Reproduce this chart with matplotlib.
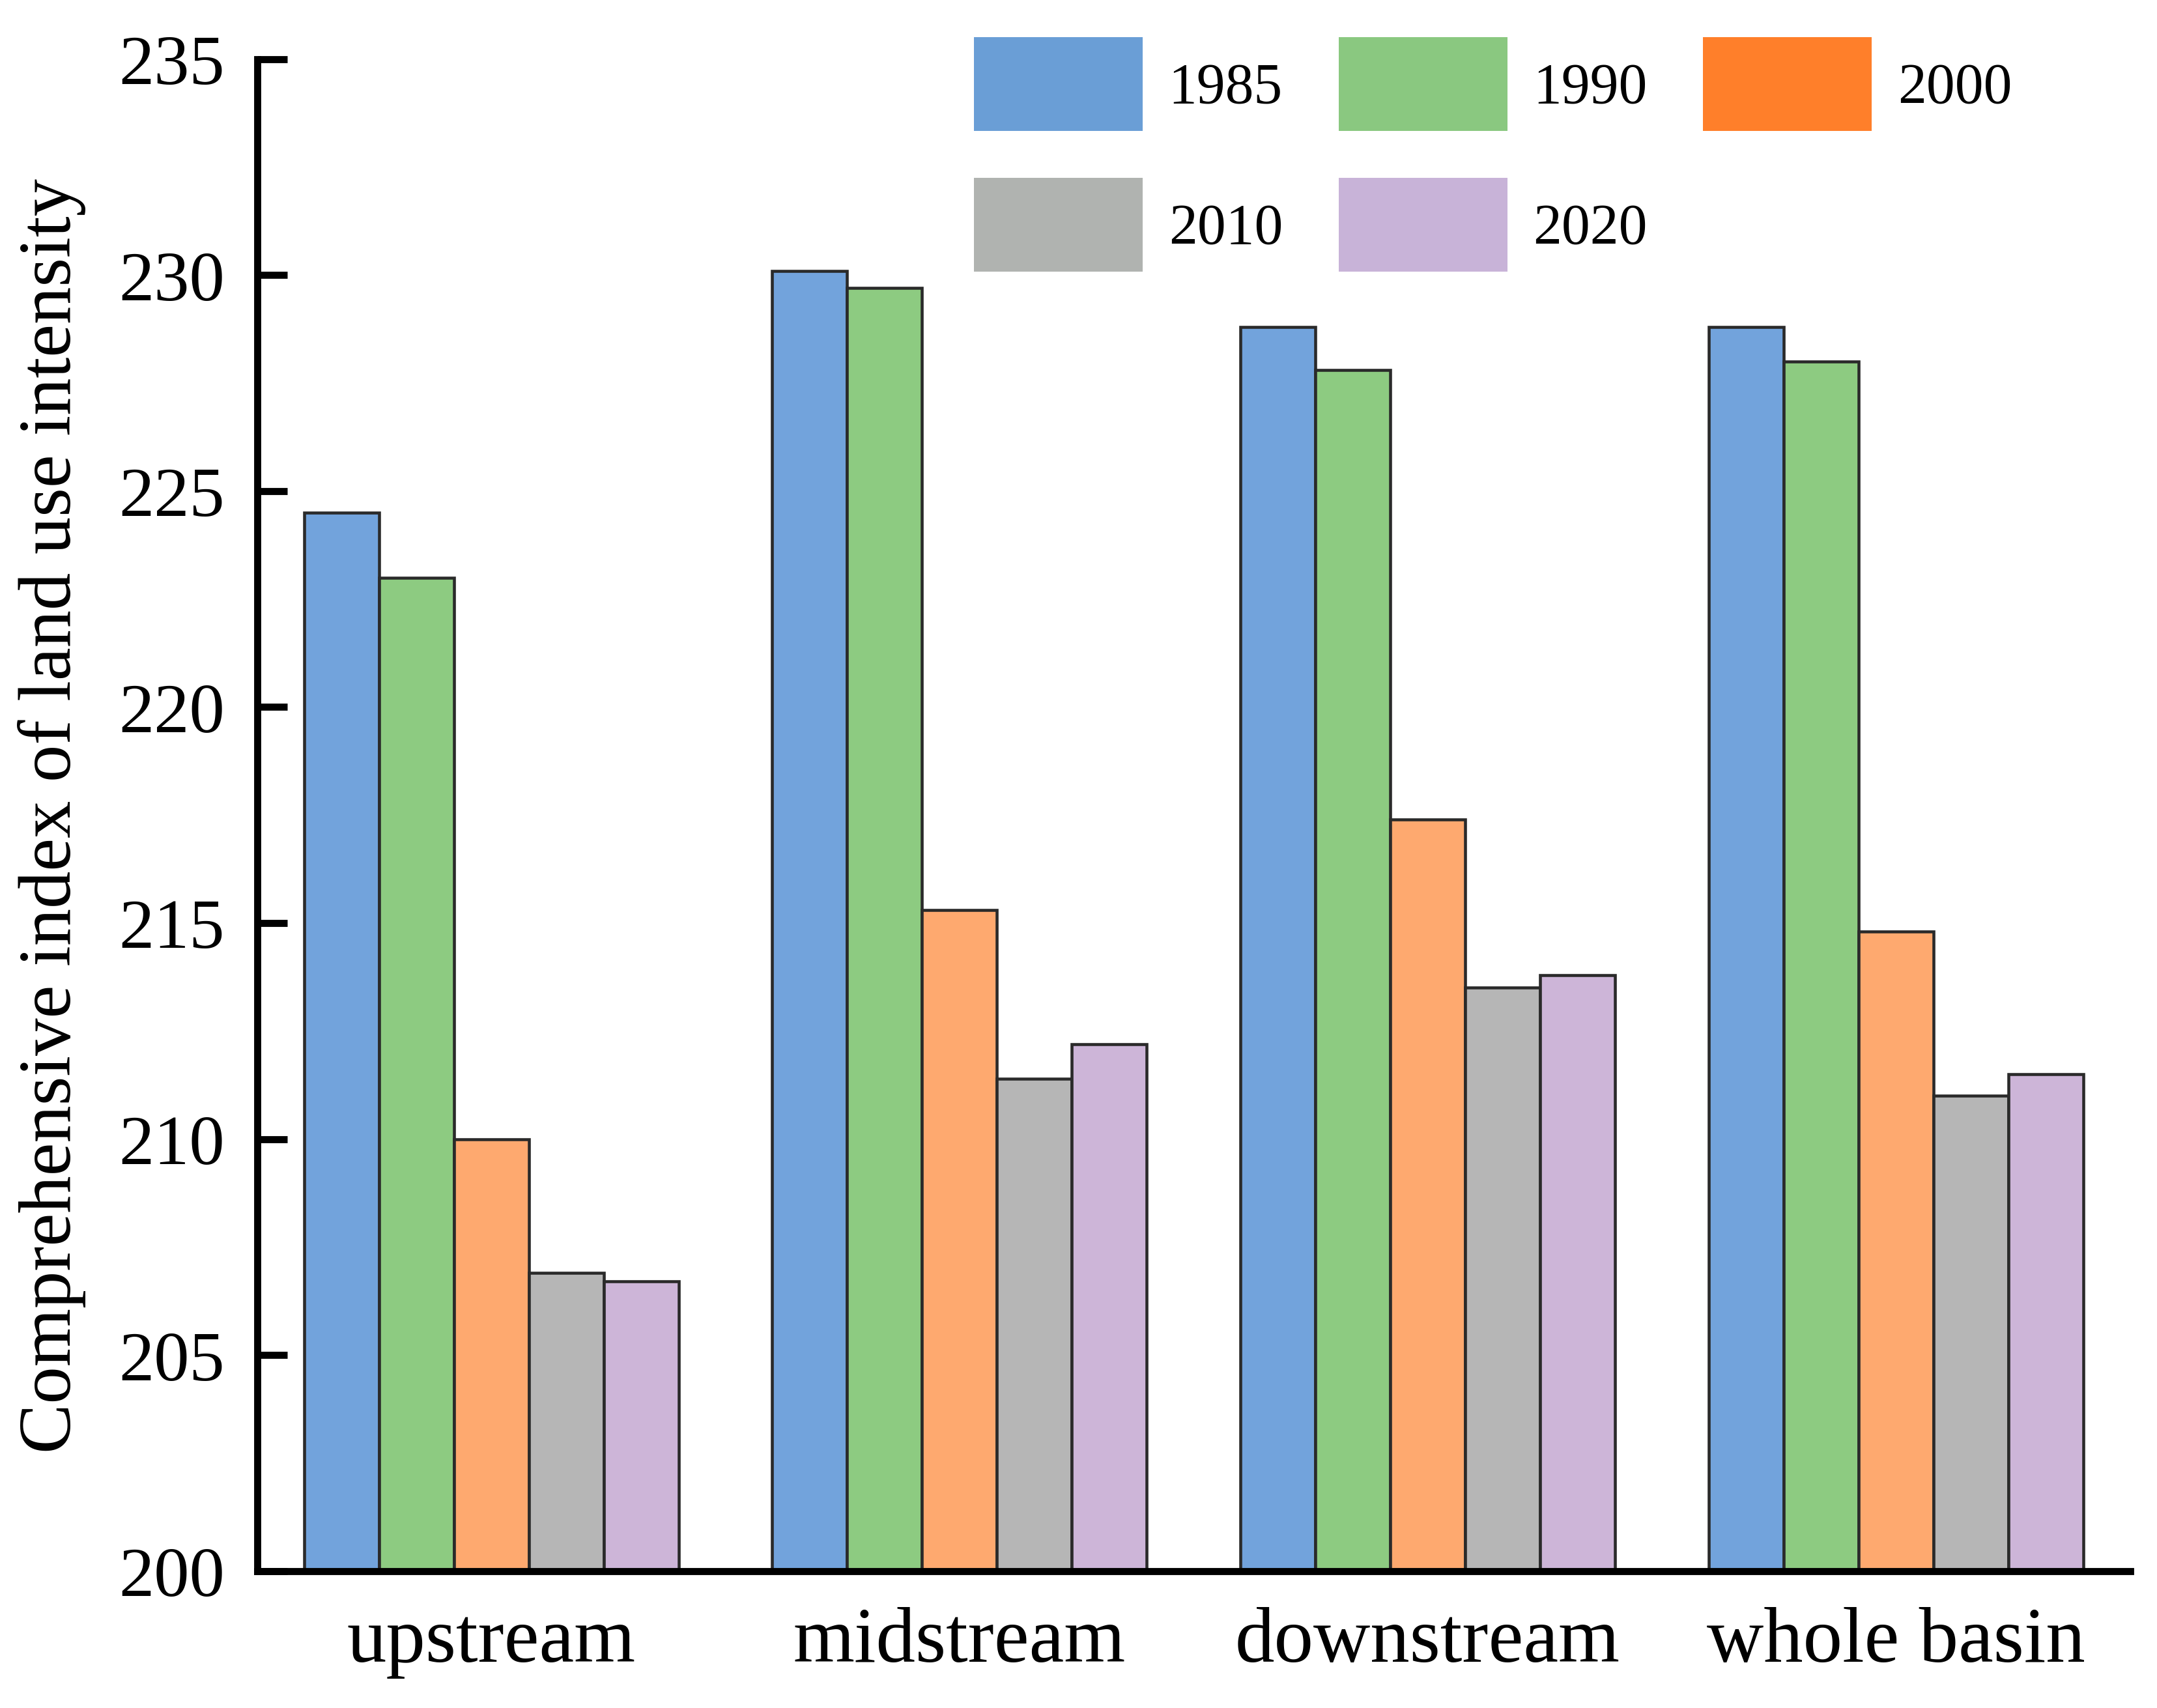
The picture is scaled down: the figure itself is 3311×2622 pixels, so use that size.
import matplotlib
matplotlib.use("Agg")
import matplotlib.pyplot as plt
import matplotlib.patches as mpatches
import numpy as np

categories = ["upstream", "midstream", "downstream", "whole basin"]
years = ["1985", "1990", "2000", "2010", "2020"]
v1985 = [224.5, 230.1, 228.8, 228.8]
v1990 = [223.0, 229.7, 227.8, 228.0]
v2000 = [210.0, 215.3, 217.4, 214.8]
v2010 = [206.9, 211.4, 213.5, 211.0]
v2020 = [206.7, 212.2, 213.8, 211.5]
series = [v1985, v1990, v2000, v2010, v2020]
yticks = [200, 205, 210, 215, 220, 225, 230, 235]

bar_colors = ["#72A3DC", "#8DCB81", "#FEA96F", "#B6B6B6", "#CDB5D8"]
legend_colors = ["#6A9ED6", "#8AC880", "#FF7F2A", "#B0B3B0", "#C8B3D8"]

plt.rcParams['font.family'] = ['Liberation Serif', 'DejaVu Serif']

fig = plt.figure(figsize=(11.04, 8.7433), dpi=300)
ax = fig.add_axes([0.1192, 0.0802, 0.868, 0.8848])

x = np.arange(len(categories))
w = 0.16
for i, vals in enumerate(series):
    ax.bar(x + (i - 2) * w, np.array(vals) - 200, bottom=200, width=w,
           color=bar_colors[i], edgecolor="#2a2a2a", linewidth=1.1, zorder=2)

ax.set_xlim(-0.5, 3.5)
ax.set_ylim(200, 235)
ax.set_yticks(yticks)
ax.set_yticklabels([str(t) for t in yticks])
ax.set_xticks(x)
ax.set_xticklabels(categories)

for s in ["top", "right"]:
    ax.spines[s].set_visible(False)
for s in ["left", "bottom"]:
    ax.spines[s].set_linewidth(2.6)
    ax.spines[s].set_color("black")

ax.tick_params(axis="y", direction="in", length=11, width=2.6, labelsize=26, pad=12)
ax.tick_params(axis="x", length=0, labelsize=29, pad=13)
ax.set_ylabel("Comprehensive index of land use intensity", fontsize=27.5, labelpad=12)

# legend laid out row-wise: 1985 1990 2000 / 2010 2020
order = [0, 3, 1, 4, 2]
handles = [mpatches.Patch(facecolor=legend_colors[k], edgecolor="none") for k in order]
labels = [years[k] for k in order]
leg = fig.legend(handles, labels, loc="upper left", bbox_to_anchor=(0.4515, 0.978),
                 ncol=3, frameon=False, fontsize=21, handlelength=2.96, handleheight=2.16,
                 handletextpad=0.45, columnspacing=0.98, labelspacing=0.82, borderpad=0,
                 borderaxespad=0)

fig.savefig("out.png", dpi=300)
